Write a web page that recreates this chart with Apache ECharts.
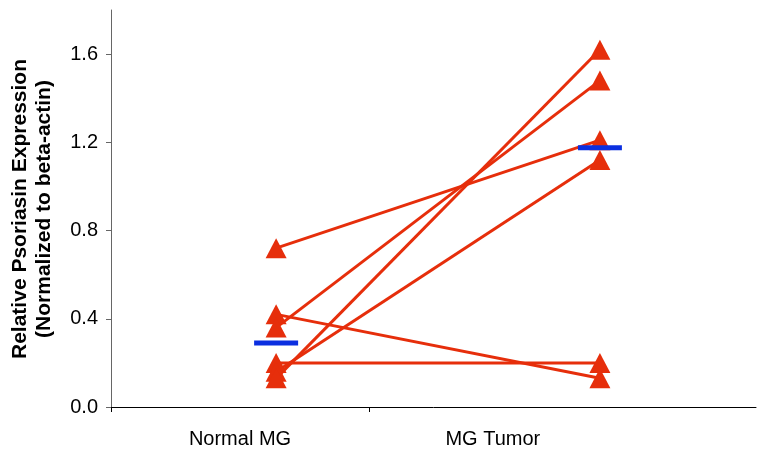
<!DOCTYPE html>
<html>
<head>
<meta charset="utf-8">
<script src="https://cdn.jsdelivr.net/npm/echarts@6/dist/echarts.min.js"></script>
<style>
html,body{margin:0;padding:0;background:#fff;}
#chart{width:757px;height:449px;}
</style>
</head>
<body>
<div id="chart"></div>
<script>
// Category labels and their positions on the x scale
var categories = ['Normal MG', 'MG Tumor'];
var categoryLabelPos = [0.5, 1.48];
var groupPos = [0.64, 1.895];
var categoryTicks = [0, 1];

// Paired values (each index is one sample)
var normalValues = [0.72, 0.42, 0.36, 0.20, 0.16, 0.13];
var tumorValues  = [1.21, 0.13, 1.48, 0.20, 1.12, 1.62];

// Median bars
var medianValues = [0.29, 1.175];

// Y tick labels
var yTicks = [0, 0.4, 0.8, 1.2, 1.6];

var RED = '#E62E0B';
var BLUE = '#0B2FE0';
var FONT = '"Liberation Sans", Arial, sans-serif';

var series = [];
for (var i = 0; i < normalValues.length; i++) {
  series.push({
    type: 'line',
    data: [[groupPos[0], normalValues[i]], [groupPos[1], tumorValues[i]]],
    showSymbol: false,
    symbol: 'none',
    lineStyle: { color: RED, width: 3 },
    silent: true,
    animation: false,
    z: 2
  });
}
var pts = [];
for (var j = 0; j < normalValues.length; j++) {
  pts.push([groupPos[0], normalValues[j]]);
  pts.push([groupPos[1], tumorValues[j]]);
}
series.push({
  type: 'scatter',
  data: pts,
  symbol: 'triangle',
  symbolSize: [21, 20],
  itemStyle: { color: RED, opacity: 1 },
  animation: false,
  z: 3
});
series.push({
  type: 'scatter',
  data: [[groupPos[0], medianValues[0]], [groupPos[1], medianValues[1]]],
  symbol: 'rect',
  symbolSize: [44, 5],
  itemStyle: { color: BLUE, opacity: 1 },
  animation: false,
  z: 4
});

var chart = echarts.init(document.getElementById('chart'));
chart.setOption({
  animation: false,
  backgroundColor: '#fff',
  grid: { left: 111, right: 1, top: 10, bottom: 42, containLabel: false },
  xAxis: {
    type: 'value',
    min: 0,
    max: 2.5,
    splitLine: { show: false },
    axisLine: { show: true, onZero: false, lineStyle: { color: '#000', width: 1 } },
    axisTick: { show: true, length: 5, inside: false, customValues: categoryTicks, lineStyle: { color: '#000' } },
    axisLabel: {
      customValues: categoryLabelPos,
      margin: 22,
      color: '#000',
      fontFamily: FONT,
      fontSize: 20,
      formatter: function (v) {
        for (var k = 0; k < categoryLabelPos.length; k++) {
          if (Math.abs(v - categoryLabelPos[k]) < 1e-6) return categories[k];
        }
        return '';
      }
    }
  },
  yAxis: {
    type: 'value',
    min: 0,
    max: 1.8,
    interval: 0.4,
    splitLine: { show: false },
    axisLine: { show: true, lineStyle: { color: '#666', width: 1 } },
    axisTick: { show: true, length: 5, inside: false, customValues: yTicks, lineStyle: { color: '#666' } },
    axisLabel: {
      customValues: yTicks,
      margin: 13,
      color: '#000',
      fontFamily: FONT,
      fontSize: 20,
      formatter: function (v) { return v.toFixed(1); }
    }
  },
  graphic: [{
    type: 'text',
    x: 32,
    y: 209,
    rotation: Math.PI / 2,
    style: {
      text: 'Relative Psoriasin Expression\n(Normalized to beta-actin)',
      font: 'bold 21px "Liberation Sans", Arial, sans-serif',
      fill: '#000',
      textAlign: 'center',
      textVerticalAlign: 'middle',
      lineHeight: 24
    }
  }],
  series: series
});
</script>
</body>
</html>
